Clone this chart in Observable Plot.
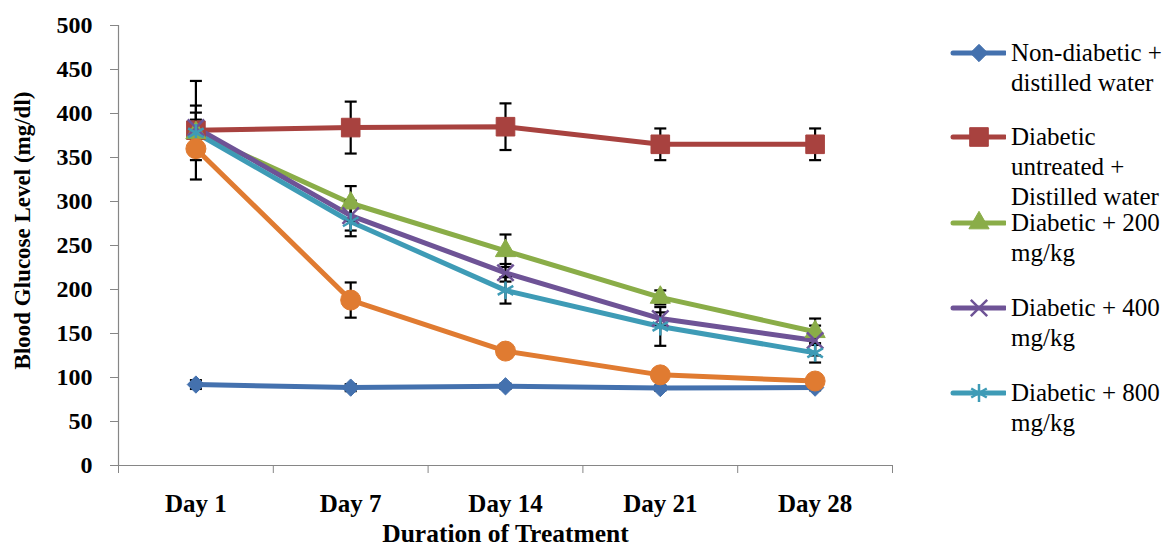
<!DOCTYPE html>
<html><head><meta charset="utf-8">
<script src="https://cdn.jsdelivr.net/npm/d3@7"></script>
<script src="https://cdn.jsdelivr.net/npm/@observablehq/plot@0.6"></script>
<style>
body{margin:0;background:#fff;}
#wrap{position:relative;width:1167px;height:548px;overflow:hidden;}
#legend{position:absolute;left:950px;top:0;font-family:"Liberation Serif","Times New Roman",serif;font-size:25px;line-height:30px;color:#000;}
.item{position:absolute;left:0;display:flex;align-items:flex-start;white-space:nowrap;}
.item svg{flex:none;margin-right:5px;}
</style></head><body><div id="wrap"><div id="legend"></div></div>
<script>
// ---- data ----
const days = ["Day 1", "Day 7", "Day 14", "Day 21", "Day 28"];
const yTicks = [0, 50, 100, 150, 200, 250, 300, 350, 400, 450, 500];

const nonDiabetic    = [92, 88.5, 90, 88, 88.5];
const nonDiabeticErr = [5, 4, 3, 3, 3];
const untreated      = [381, 384, 385, 365, 365];
const untreatedErr   = [56, 29.5, 26.5, 18, 18];
const dose200        = [378, 298, 244, 191, 152];
const dose200Err     = [23, 19.5, 18.5, 8, 15];
const dose400        = [384, 284, 219, 167, 142];
const dose400Err     = [25, 17, 10, 7, 17];
const dose800        = [378, 277, 199, 158, 128];
const dose800Err     = [15, 16.5, 15, 22, 11];
const standard       = [360, 188, 130, 103, 96];
const standardErr    = [13, 20, 5, 4, 4];

const legendNames = [
  ["Non-diabetic +", "distilled water"],
  ["Diabetic", "untreated +", "Distilled water"],
  ["Diabetic + 200", "mg/kg"],
  ["Diabetic + 400", "mg/kg"],
  ["Diabetic + 800", "mg/kg"]
];

// ---- series styling ----
const series = [
  {key:"nd",   values:nonDiabetic, err:nonDiabeticErr, color:"#4471AE", symbol:"diamond2", r:7.8, filled:true,  legend:legendNames[0], ly:53},
  {key:"un",   values:untreated,   err:untreatedErr,   color:"#A8423F", symbol:"square",   r:10.5, filled:true, legend:legendNames[1], ly:137},
  {key:"d200", values:dose200,     err:dose200Err,     color:"#8AAD48", symbol:"triangle", r:7.5, filled:true,  legend:legendNames[2], ly:223},
  {key:"d400", values:dose400,     err:dose400Err,     color:"#6E5396", symbol:"times",    r:7.5, filled:false, legend:legendNames[3], ly:308},
  {key:"d800", values:dose800,     err:dose800Err,     color:"#3E9BB6", symbol:"asterisk", r:8.5, filled:false, legend:legendNames[4], ly:393},
  {key:"std",  values:standard,    err:standardErr,    color:"#E07B31", symbol:"circle",   r:10,  filled:true,  legend:null}
];

const rows = series.flatMap(s => s.values.map((v, i) => ({series:s.key, i, value:v, err:s.err[i], color:s.color})));
const boundaries = d3.range(days.length + 1).map(k => k - 0.5);

const capSymbol = {draw(context){ context.moveTo(-6, 0); context.lineTo(6, 0); }};

const markerMark = s => Plot.dot(rows.filter(d => d.series === s.key), {
  x:"i", y:"value", symbol:s.symbol, r:s.r,
  fill: s.filled ? s.color : "none",
  stroke: s.color, strokeWidth: s.filled ? 1 : 2.5
});

const chart = Plot.plot({
  width:1167, height:548,
  marginLeft:118, marginRight:275, marginTop:25, marginBottom:83,
  style:{fontFamily:"'Liberation Serif','Times New Roman',serif", background:"transparent", color:"#000"},
  x:{type:"linear", domain:[-0.5, days.length - 0.5]},
  y:{domain:[0, 500]},
  marks:[
    Plot.ruleX([-0.5], {stroke:"#868686", strokeWidth:1.2}),
    Plot.ruleY([0], {stroke:"#868686", strokeWidth:1.2}),
    Plot.axisY({ticks:yTicks, tickSize:8, tickPadding:18, stroke:"#868686", fill:"#000", fontSize:24, fontWeight:"bold", label:null, tickFormat:d => String(d)}),
    Plot.axisX({ticks:boundaries, tickSize:8, stroke:"#868686", tickFormat:() => "", label:null}),
    Plot.axisX({ticks:d3.range(days.length), tickSize:0, tickPadding:29, tickFormat:i => days[i], fill:"#000", fontSize:25, fontWeight:"bold", label:null}),
    Plot.text(["Duration of Treatment"], {frameAnchor:"bottom", textAnchor:"middle", dy:68, lineAnchor:"middle", fontSize:25.5, fontWeight:"bold", fill:"#000"}),
    Plot.text(["Blood Glucose Level (mg/dl)"], {frameAnchor:"left", textAnchor:"middle", rotate:-90, dx:-96, dy:-15, lineAnchor:"middle", fontSize:23, fontWeight:"bold", fill:"#000"}),
    Plot.line(rows, {x:"i", y:"value", z:"series", stroke:"color", strokeWidth:5, strokeLinejoin:"round", strokeLinecap:"round"}),
    Plot.ruleX(rows, {x:"i", y1:d => d.value - d.err, y2:d => d.value + d.err, stroke:"#000", strokeWidth:2.2}),
    Plot.dot(rows, {x:"i", y:d => d.value + d.err, symbol:capSymbol, r:5, stroke:"#000", strokeWidth:2.2, fill:"none"}),
    Plot.dot(rows, {x:"i", y:d => d.value - d.err, symbol:capSymbol, r:5, stroke:"#000", strokeWidth:2.2, fill:"none"}),
    ...series.map(markerMark)
  ]
});
document.getElementById("wrap").prepend(chart);

// ---- legend ----
const legend = d3.select("#legend");
const symbolMap = {diamond2:d3.symbolDiamond2, square:d3.symbolSquare, triangle:d3.symbolTriangle, times:d3.symbolTimes, asterisk:d3.symbolAsterisk, circle:d3.symbolCircle};
series.filter(s => s.legend).forEach(s => {
  const item = legend.append("div").attr("class", "item").style("top", (s.ly - 15) + "px");
  const svg = item.append("svg").attr("width", 56).attr("height", 30);
  svg.append("line").attr("x1", 3).attr("x2", 55).attr("y1", 15).attr("y2", 15)
    .attr("stroke", s.color).attr("stroke-width", 5).attr("stroke-linecap", "round");
  svg.append("path").attr("transform", "translate(29,15)")
    .attr("d", d3.symbol(symbolMap[s.symbol], s.r * s.r * Math.PI)())
    .attr("fill", s.filled ? s.color : "none").attr("stroke", s.color).attr("stroke-width", s.filled ? 1 : 2.5);
  item.append("div").html(s.legend.join("<br>"));
});
</script>
</body></html>
